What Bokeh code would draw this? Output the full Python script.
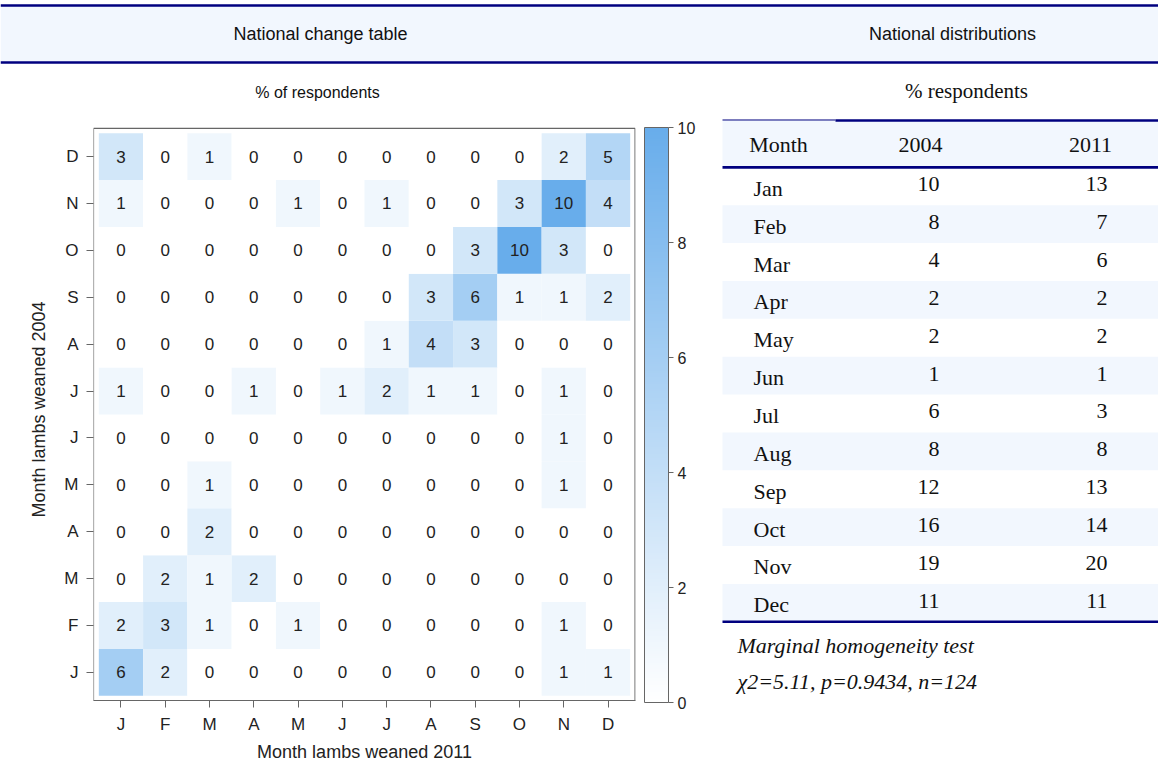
from bokeh.plotting import figure
from bokeh.models import Range1d, ColorBar, LinearColorMapper, FixedTicker, ColumnDataSource
from bokeh.layouts import column, row
from bokeh.embed import file_html
from bokeh.resources import INLINE
from bokeh.core.properties import value

# ---------------- data ----------------
month_initials = ["J", "F", "M", "A", "M", "J", "J", "A", "S", "O", "N", "D"]
month_names = ["Jan", "Feb", "Mar", "Apr", "May", "Jun", "Jul", "Aug", "Sep", "Oct", "Nov", "Dec"]

# change table: one list per month weaned in 2004, values by month weaned in 2011 (% of respondents)
weaned2004_jan = [6, 2, 0, 0, 0, 0, 0, 0, 0, 0, 1, 1]
weaned2004_feb = [2, 3, 1, 0, 1, 0, 0, 0, 0, 0, 1, 0]
weaned2004_mar = [0, 2, 1, 2, 0, 0, 0, 0, 0, 0, 0, 0]
weaned2004_apr = [0, 0, 2, 0, 0, 0, 0, 0, 0, 0, 0, 0]
weaned2004_may = [0, 0, 1, 0, 0, 0, 0, 0, 0, 0, 1, 0]
weaned2004_jun = [0, 0, 0, 0, 0, 0, 0, 0, 0, 0, 1, 0]
weaned2004_jul = [1, 0, 0, 1, 0, 1, 2, 1, 1, 0, 1, 0]
weaned2004_aug = [0, 0, 0, 0, 0, 0, 1, 4, 3, 0, 0, 0]
weaned2004_sep = [0, 0, 0, 0, 0, 0, 0, 3, 6, 1, 1, 2]
weaned2004_oct = [0, 0, 0, 0, 0, 0, 0, 0, 3, 10, 3, 0]
weaned2004_nov = [1, 0, 0, 0, 1, 0, 1, 0, 0, 3, 10, 4]
weaned2004_dec = [3, 0, 1, 0, 0, 0, 0, 0, 0, 0, 2, 5]

# national distributions (% respondents)
dist_2004 = [10, 8, 4, 2, 2, 1, 6, 8, 12, 16, 19, 11]
dist_2011 = [13, 7, 6, 2, 2, 1, 3, 8, 13, 14, 20, 11]

colorbar_ticks = [0, 2, 4, 6, 8, 10]
title_left = "National change table"
title_right = "National distributions"
sub_left = "% of respondents"
sub_right = "% respondents"
col_headers = ["Month", "2004", "2011"]
note_1 = "Marginal homogeneity test"
note_2 = "\u03c72=5.11, p=0.9434, n=124"

# ---------------- style ----------------
NAVY = "#00007f"
BAND = "#f2f7fe"
SANS = value("Liberation Sans")
SERIF = value("Liberation Serif")
TXT = "#111111"
GREY = "#666666"


def make_palette(c0, c1, n=256):
    a = [int(c0[i:i + 2], 16) for i in (1, 3, 5)]
    b = [int(c1[i:i + 2], 16) for i in (1, 3, 5)]
    out = []
    for k in range(n):
        t = k / (n - 1)
        out.append("#%02x%02x%02x" % tuple(round(a[j] + (b[j] - a[j]) * t) for j in range(3)))
    return out


palette = make_palette("#ffffff", "#68adeb")


def bare(fig):
    fig.grid.visible = False
    fig.outline_line_color = None
    fig.background_fill_color = "white"
    fig.border_fill_color = "white"
    return fig


W = 1158
HDR_H = 106
LOW_H = 764 - HDR_H
LEFT_W = 712
MB_TOP, MB_BOTTOM, MB_LEFT = 12, 62, 93
MB_RIGHT = LEFT_W - 635
FRAME_TOP = HDR_H + MB_TOP            # page y of the (shared) frame top
FRAME_BOTTOM = HDR_H + LOW_H - MB_BOTTOM
BOX_TOP = 128                         # page y of the heatmap box top
CB_PAD = 9

# ---------------- header band ----------------
hdr = figure(width=W, height=HDR_H, x_range=Range1d(0, W), y_range=Range1d(HDR_H, 0),
             x_axis_location=None, y_axis_location=None, min_border=0,
             output_backend="svg", toolbar_location=None)
bare(hdr)
hdr.quad(left=[0], right=[W], top=[5], bottom=[62], fill_color=BAND, line_color=None)
hdr.segment(x0=[0, 0], y0=[5, 62], x1=[W, W], y1=[5, 62], line_color=NAVY, line_width=2.6)
hdr.text(x=[320, 952], y=[33, 33], text=[title_left, title_right], text_align="center",
         text_baseline="middle", text_font=SANS, text_font_size="18px", text_color=TXT)
hdr.text(x=[317], y=[92], text=[sub_left], text_align="center", text_baseline="middle",
         text_font=SANS, text_font_size="16px", text_color=TXT)
hdr.text(x=[966], y=[90], text=[sub_right], text_align="center", text_baseline="middle",
         text_font=SERIF, text_font_size="21px", text_color=TXT)

# ---------------- heatmap ----------------
rows2004 = [weaned2004_jan, weaned2004_feb, weaned2004_mar, weaned2004_apr, weaned2004_may,
            weaned2004_jun, weaned2004_jul, weaned2004_aug, weaned2004_sep, weaned2004_oct,
            weaned2004_nov, weaned2004_dec]
xs, ys, vs = [], [], []
for r, vals in enumerate(rows2004):
    for c, v in enumerate(vals):
        xs.append(c)
        ys.append(r)
        vs.append(v)
src = ColumnDataSource(dict(x=xs, y=ys, v=vs, t=[str(v) for v in vs]))
mapper = LinearColorMapper(palette=palette, low=0, high=10)

X_LO, X_HI = -0.62, 11.62
Y_LO, Y_BOX = -0.6, 11.6
px_per_unit = (FRAME_BOTTOM - BOX_TOP) / (Y_BOX - Y_LO)
Y_HI = Y_BOX + (BOX_TOP - FRAME_TOP) / px_per_unit

hm = figure(width=LEFT_W, height=LOW_H, x_range=Range1d(X_LO, X_HI), y_range=Range1d(Y_LO, Y_HI),
            min_border_left=MB_LEFT, min_border_right=MB_RIGHT, min_border_top=MB_TOP,
            min_border_bottom=MB_BOTTOM, output_backend="svg", toolbar_location=None)
bare(hm)
hm.rect("x", "y", 1, 1, source=src, fill_color={"field": "v", "transform": mapper}, line_color=None)
hm.text("x", "y", text="t", source=src, text_align="center", text_baseline="middle",
        text_font=SANS, text_font_size="17px", text_color="#222222")
hm.quad(left=[X_LO], right=[X_HI - 0.01], bottom=[Y_LO], top=[Y_BOX], fill_color=None,
        line_color=GREY, line_width=1.2)

for ax in (hm.xaxis[0], hm.yaxis[0]):
    ax.ticker = FixedTicker(ticks=list(range(12)))
    ax.major_label_overrides = {i: month_initials[i] for i in range(12)}
    ax.minor_tick_line_color = None
    ax.major_tick_out = 7
    ax.major_tick_in = 0
    ax.major_label_standoff = 8
    ax.axis_line_color = GREY
    ax.major_tick_line_color = GREY
    ax.major_label_text_font = "Liberation Sans"
    ax.major_label_text_font_size = "17px"
    ax.major_label_text_color = "#222222"
    ax.axis_label_text_font = "Liberation Sans"
    ax.axis_label_text_font_size = "18px"
    ax.axis_label_text_font_style = "normal"
    ax.axis_label_text_color = "#222222"
    ax.axis_label_standoff = 5
hm.xaxis.major_label_standoff = 7
hm.yaxis.axis_line_color = None
hm.yaxis.major_label_orientation = "horizontal"
hm.yaxis.axis_label_standoff = 12
hm.xaxis.axis_label = "Month lambs weaned 2011"
hm.yaxis.axis_label = "Month lambs weaned 2004"

cb = ColorBar(color_mapper=mapper, ticker=FixedTicker(ticks=colorbar_ticks), width=24,
              height=FRAME_BOTTOM - FRAME_TOP - CB_PAD, location="top_right",
              padding=CB_PAD, margin=8, bar_line_color=GREY, major_tick_out=5, major_tick_in=0,
              major_tick_line_color=GREY, label_standoff=4,
              major_label_text_font="Liberation Sans", major_label_text_font_size="16px",
              major_label_text_color="#222222", background_fill_color=None, border_line_color=None)
hm.add_layout(cb, "right")

# ---------------- table ----------------
tb = figure(width=W - LEFT_W, height=LOW_H, x_range=Range1d(LEFT_W, W),
            y_range=Range1d(FRAME_BOTTOM, FRAME_TOP),
            x_axis_location=None, y_axis_location=None,
            min_border_left=0, min_border_right=0, min_border_top=MB_TOP, min_border_bottom=MB_BOTTOM,
            output_backend="svg", toolbar_location=None)
bare(tb)
T_LEFT, T_RIGHT, SPAN_LEFT = 722, W, 835
T_TOP, HEAD_BOTTOM, ROW_H = 119.5, 167, 38
n = len(month_names)
row_top = [HEAD_BOTTOM + i * ROW_H for i in range(n)]
row_mid = [t + ROW_H / 2 for t in row_top]

tb.quad(left=[T_LEFT], right=[T_RIGHT], top=[T_TOP], bottom=[HEAD_BOTTOM], fill_color=BAND, line_color=None)
shaded = [i for i in range(n) if i % 2 == 1]
tb.quad(left=[T_LEFT] * len(shaded), right=[T_RIGHT] * len(shaded),
        top=[row_top[i] for i in shaded], bottom=[row_top[i] + ROW_H for i in shaded],
        fill_color=BAND, line_color=None)
table_bottom = row_top[-1] + ROW_H
tb.segment(x0=[T_LEFT], y0=[T_TOP], x1=[SPAN_LEFT], y1=[T_TOP], line_color=NAVY, line_width=1)
tb.segment(x0=[SPAN_LEFT, T_LEFT, T_LEFT], y0=[T_TOP + 0.5, HEAD_BOTTOM, table_bottom],
           x1=[T_RIGHT, T_RIGHT, T_RIGHT], y1=[T_TOP + 0.5, HEAD_BOTTOM, table_bottom],
           line_color=NAVY, line_width=2.6)

FS = "22px"
tb.text(x=[778, 920, 1090], y=[(T_TOP + HEAD_BOTTOM) / 2 + 1] * 3, text=col_headers,
        text_align="center", text_baseline="middle", text_font=SERIF, text_font_size=FS,
        text_color=TXT)
tb.text(x=[753] * n, y=[m + 2 for m in row_mid], text=month_names, text_align="left",
        text_baseline="middle", text_font=SERIF, text_font_size=FS, text_color=TXT)
tb.text(x=[939] * n, y=[m - 2 for m in row_mid], text=[str(v) for v in dist_2004], text_align="right",
        text_baseline="middle", text_font=SERIF, text_font_size=FS, text_color=TXT)
tb.text(x=[1107] * n, y=[m - 2 for m in row_mid], text=[str(v) for v in dist_2011], text_align="right",
        text_baseline="middle", text_font=SERIF, text_font_size=FS, text_color=TXT)
tb.text(x=[737, 737], y=[table_bottom + 24, table_bottom + 60], text=[note_1, note_2],
        text_align="left", text_baseline="middle", text_font=SERIF, text_font_size=FS,
        text_font_style="italic", text_color=TXT)

layout = column(hdr, row(hm, tb, spacing=0), spacing=0)
open("out.html", "w").write(file_html(layout, INLINE))
